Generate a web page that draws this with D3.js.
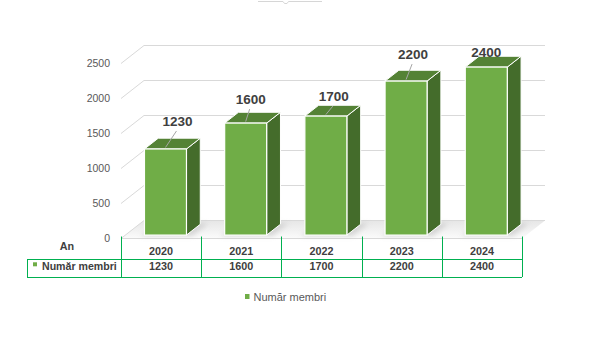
<!DOCTYPE html>
<html><head><meta charset="utf-8">
<script src="https://cdn.jsdelivr.net/npm/d3@7"></script>
<style>
html,body{margin:0;padding:0;background:#fff;}
svg{display:block;font-family:"Liberation Sans",Arial,sans-serif;}
</style></head>
<body>
<svg id="chart" width="589" height="355"></svg>
<script>
// ---- data ----
const years = ["2020", "2021", "2022", "2023", "2024"];
const members = [1230, 1600, 1700, 2200, 2400];
const yTicks = [0, 500, 1000, 1500, 2000, 2500];
const seriesName = "Număr membri";
const axisTitle = "An";
// data label nudges (manually placed labels in the original)
const labelNudge = [[12, -28], [5, -24], [8, -20], [7, -27], [0, -15]];

// ---- layout ----
const svg = d3.select("#chart");
const DX = 23, DY = 18;          // depth projection of the 3D box
const Z0 = 0.19, Z1 = 0.79;      // bar depth range
const green = "#70AD47", greenTop = "#548235", greenSide = "#446C2B";
const gridCol = "#d9d9d9", tableCol = "#00B050";

const x = d3.scaleBand().domain(years).range([121, 522]).padding(0);
const y = d3.scaleLinear().domain([0, 2500]).range([238.5, 63.5]);
const P = (px, py, z) => [px + z * DX, py - z * DY];

const defs = svg.append("defs");
const fg = defs.append("linearGradient").attr("id", "floorGrad")
  .attr("x1", 0).attr("y1", 0).attr("x2", 0).attr("y2", 1);
fg.append("stop").attr("offset", "0%").attr("stop-color", "#e6e6e6");
fg.append("stop").attr("offset", "100%").attr("stop-color", "#fbfbfb");
defs.append("filter").attr("id", "blur").attr("x", "-50%").attr("y", "-50%")
  .attr("width", "200%").attr("height", "200%")
  .append("feGaussianBlur").attr("stdDeviation", 2.5);

// small top mark
svg.append("path").attr("d", "M258,1.5H283L284.5,3.5H287L288.5,1.5H322")
  .attr("fill", "none").attr("stroke", "#d6d6d6").attr("stroke-width", 1);

const x0 = x.range()[0], x1 = x.range()[1];

// floor
const f = [P(x0, y(0), 0), P(x1, y(0), 0), P(x1, y(0), 1), P(x0, y(0), 1)];
svg.append("polygon").attr("points", f.map(p => p.join(",")).join(" "))
  .attr("fill", "url(#floorGrad)");

// gridlines (side wall diagonal + back wall)
svg.append("g").selectAll("path").data(yTicks).join("path")
  .attr("d", t => {
    const a = P(x0, y(t), 0), b = P(x0, y(t), 1), c = P(x1, y(t), 1);
    return `M${a}L${b}L${c}`;
  })
  .attr("fill", "none").attr("stroke", gridCol).attr("stroke-width", 1);
// front floor edge
svg.append("line").attr("x1", x0).attr("x2", x1).attr("y1", y(0)).attr("y2", y(0))
  .attr("stroke", gridCol);

// y axis labels
const yAxis = d3.axisLeft(y).tickValues(yTicks).tickFormat(d3.format("d")).tickSize(0).tickPadding(0);
const ga = svg.append("g").attr("transform", "translate(110,0)").call(yAxis);
ga.select(".domain").remove();
ga.selectAll("text").attr("font-size", "10.5px").attr("fill", "#595959")
  .attr("font-family", "Liberation Sans, Arial, sans-serif");

// bars
const barW = 42;
const bars = svg.append("g");
members.forEach((v, i) => {
  const bx = x(years[i]) + (x.bandwidth() - barW) / 2;
  const ft = P(bx, y(v), Z0), fb = P(bx, y(0), Z0);
  const left = ft[0], right = ft[0] + barW, top = ft[1], bot = fb[1];
  const dxs = (Z1 - Z0) * DX, dys = (Z1 - Z0) * DY;
  // shadow
  bars.append("polygon")
    .attr("points", [[left - 4, bot + 1], [right + 6, bot + 1], [right + dxs + 8, bot - dys - 1], [left + dxs - 2, bot - dys - 1]].map(p => p.join(",")).join(" "))
    .attr("fill", "#bdbdbd").attr("opacity", 0.55).attr("filter", "url(#blur)");
  // side
  bars.append("polygon")
    .attr("points", [[right, top], [right + dxs, top - dys], [right + dxs, bot - dys], [right, bot]].map(p => p.join(",")).join(" "))
    .attr("fill", greenSide).attr("stroke", "#fff").attr("stroke-width", 1).attr("stroke-linejoin", "round");
  // top
  bars.append("polygon")
    .attr("points", [[left, top], [right, top], [right + dxs, top - dys], [left + dxs, top - dys]].map(p => p.join(",")).join(" "))
    .attr("fill", greenTop).attr("stroke", "#fff").attr("stroke-width", 1).attr("stroke-linejoin", "round");
  // front
  bars.append("rect").attr("x", left).attr("y", top).attr("width", barW).attr("height", bot - top)
    .attr("fill", green).attr("stroke", "#fff").attr("stroke-width", 1.2);

  // data label
  const cx = left + barW / 2;
  const lx = cx + labelNudge[i][0], ly = top + labelNudge[i][1];
  if (labelNudge[i][1] < -18) {
    svg.append("line").attr("x1", lx - 1).attr("y1", ly + 10).attr("x2", cx).attr("y2", top - 1.5)
      .attr("stroke", "#a6a6a6").attr("stroke-width", 1);
  }
  svg.append("text").attr("x", lx).attr("y", ly).attr("dy", "0.35em")
    .attr("text-anchor", "middle").attr("font-size", "13.5px").attr("font-weight", "bold")
    .attr("fill", "#404040").text(v);
});

// data table
const rowTop = 239, rowMid = 259, rowBot = 277, leftX = 27;
const tb = svg.append("g").attr("stroke", tableCol).attr("stroke-width", 1).attr("fill", "none");
x.domain().concat(["end"]).forEach((d, i) => {
  const xx = Math.round(x0 + i * x.bandwidth()) + 0.5;
  tb.append("line").attr("x1", xx).attr("x2", xx).attr("y1", 236.5).attr("y2", rowBot);
});
tb.append("line").attr("x1", leftX).attr("x2", x1).attr("y1", rowMid + 0.5).attr("y2", rowMid + 0.5);
tb.append("line").attr("x1", leftX).attr("x2", x1).attr("y1", rowBot + 0.5).attr("y2", rowBot + 0.5);
tb.append("line").attr("x1", leftX + 0.5).attr("x2", leftX + 0.5).attr("y1", rowMid).attr("y2", rowBot + 1);

const row1Y = 251.3, row2Y = 266.3;
const tt = svg.append("g").attr("font-size", "10.8px").attr("font-weight", "bold").attr("fill", "#404040")
  .attr("text-anchor", "middle");
years.forEach((yr, i) => {
  const cx = x(yr) + x.bandwidth() / 2;
  tt.append("text").attr("x", cx).attr("y", row1Y).attr("dy", "0.35em").text(yr);
  tt.append("text").attr("x", cx).attr("y", row2Y).attr("dy", "0.35em").text(members[i]);
});
tt.append("text").attr("x", 67).attr("y", 246).attr("dy", "0.35em").text(axisTitle);
svg.append("rect").attr("x", 33).attr("y", 262.3).attr("width", 4).attr("height", 4).attr("fill", green);
svg.append("text").attr("x", 42).attr("y", row2Y).attr("dy", "0.35em")
  .attr("font-size", "10.6px").attr("font-weight", "bold").attr("fill", "#404040").text(seriesName);

// legend
svg.append("rect").attr("x", 245).attr("y", 294).attr("width", 4.5).attr("height", 5).attr("fill", green);
svg.append("text").attr("x", 253.5).attr("y", 297).attr("dy", "0.35em")
  .attr("font-size", "11px").attr("fill", "#595959").text(seriesName);
</script>
</body></html>
